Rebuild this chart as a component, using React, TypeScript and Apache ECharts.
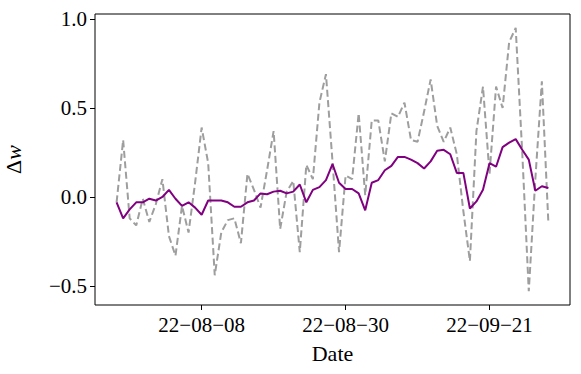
import React, { useEffect, useRef } from 'react';
import * as echarts from 'echarts';

const START_DATE = '2022-07-26';
const X_TICK_DATES = ['2022-08-08', '2022-08-30', '2022-09-21'];
const Y_TICKS = [-0.5, 0, 0.5, 1.0];

const dailyDelta = [
  -0.03, 0.32, -0.12, -0.16, -0.01, -0.14, -0.04, 0.10, -0.22, -0.33,
  -0.05, -0.20, 0.08, 0.39, 0.19, -0.44, -0.20, -0.13, -0.12, -0.26,
  0.13, 0.04, -0.06, 0.15, 0.37, -0.18, 0.03, 0.09, -0.31, 0.18,
  0.10, 0.53, 0.69, 0.20, -0.31, 0.12, 0.10, 0.47, 0.01, 0.43,
  0.43, 0.20, 0.47, 0.45, 0.53, 0.32, 0.31, 0.48, 0.66, 0.40,
  0.31, 0.39, 0.24, -0.08, -0.36, 0.37, 0.62, 0.13, 0.62, 0.50,
  0.87, 0.95, 0.25, -0.53, 0.10, 0.65, -0.15,
];

const smoothedDelta = [
  -0.03, -0.12, -0.07, -0.03, -0.03, -0.01, -0.02, 0.00, 0.04, -0.01,
  -0.05, -0.03, -0.06, -0.10, -0.02, -0.02, -0.02, -0.03, -0.055, -0.055,
  -0.03, -0.02, 0.02, 0.015, 0.03, 0.035, 0.02, 0.03, 0.07, -0.03,
  0.04, 0.055, 0.095, 0.185, 0.08, 0.045, 0.045, 0.02, -0.075, 0.08,
  0.095, 0.15, 0.175, 0.225, 0.225, 0.21, 0.19, 0.16, 0.20, 0.26,
  0.265, 0.24, 0.135, 0.135, -0.065, -0.025, 0.04, 0.19, 0.17, 0.28,
  0.305, 0.325, 0.265, 0.21, 0.035, 0.06, 0.05,
];

const DAY = 86400000;
const FONT = "'Liberation Serif', 'Times New Roman', serif";

function fmtDate(v: number): string {
  const d = new Date(v);
  const yy = String(d.getUTCFullYear() % 100).padStart(2, '0');
  const mm = String(d.getUTCMonth() + 1).padStart(2, '0');
  const dd = String(d.getUTCDate()).padStart(2, '0');
  return `${yy}\u2212${mm}\u2212${dd}`;
}

export default function App() {
  const ref = useRef<HTMLDivElement>(null);

  useEffect(() => {
    if (!ref.current) return;
    const chart = echarts.init(ref.current, null, { renderer: 'svg' });
    const t0 = Date.parse(START_DATE + 'T00:00:00Z');
    const times = dailyDelta.map((_, i) => t0 + i * DAY);
    const tEnd = times[times.length - 1];
    const xTicks = X_TICK_DATES.map((s) => Date.parse(s + 'T00:00:00Z'));

    chart.setOption({
      animation: false,
      grid: {
        left: 95,
        right: 11,
        top: 14,
        bottom: 69,
        containLabel: false,
        outerBoundsMode: 'none',
        show: true,
        borderColor: '#000',
        borderWidth: 1,
        backgroundColor: 'transparent',
      },
      xAxis: {
        type: 'value',
        min: t0 - 3.3 * DAY,
        max: tEnd + 3.3 * DAY,
        name: 'Date',
        nameLocation: 'middle',
        nameGap: 37,
        nameTextStyle: { fontFamily: FONT, fontSize: 22, color: '#000' },
        axisLine: { show: false, onZero: false },
        splitLine: { show: false },
        axisTick: {
          show: true,
          inside: false,
          length: 5,
          lineStyle: { color: '#000', width: 1 },
          customValues: xTicks,
        },
        axisLabel: {
          customValues: xTicks,
          formatter: (v: number) => fmtDate(v),
          fontFamily: FONT,
          fontSize: 21,
          color: '#000',
          margin: 9,
        },
      },
      yAxis: {
        type: 'value',
        min: -0.607,
        max: 1.028,
        name: '{a|\u0394}{b|w}',
        nameLocation: 'middle',
        nameRotate: 90,
        nameGap: 71,
        nameTextStyle: {
          color: '#000',
          fontFamily: FONT,
          fontSize: 22,
          rich: {
            a: { fontFamily: FONT, fontSize: 22, color: '#000' },
            b: { fontFamily: FONT, fontSize: 22, fontStyle: 'italic', color: '#000' },
          },
        },
        axisLine: { show: false, onZero: false },
        splitLine: { show: false },
        axisTick: {
          show: true,
          length: 5,
          lineStyle: { color: '#000', width: 1 },
          customValues: Y_TICKS,
        },
        axisLabel: {
          customValues: Y_TICKS,
          formatter: (v: number) => (v < 0 ? '\u2212' : '') + Math.abs(v).toFixed(1),
          fontFamily: FONT,
          fontSize: 21,
          color: '#000',
          margin: 8,
        },
      },
      series: [
        {
          name: 'daily',
          type: 'line',
          data: dailyDelta.map((v, i) => [times[i], v]),
          showSymbol: false,
          symbol: 'none',
          lineStyle: { color: '#9e9e9e', width: 2, type: [7, 3.5] },
          z: 2,
        },
        {
          name: 'smoothed',
          type: 'line',
          data: smoothedDelta.map((v, i) => [times[i], v]),
          showSymbol: false,
          symbol: 'none',
          lineStyle: { color: '#800080', width: 2 },
          z: 3,
        },
      ],
    });

    return () => {
      chart.dispose();
    };
  }, []);

  return (
    <div
      ref={ref}
      style={{ position: 'absolute', left: 0, top: 0, width: 581, height: 374 }}
    />
  );
}
